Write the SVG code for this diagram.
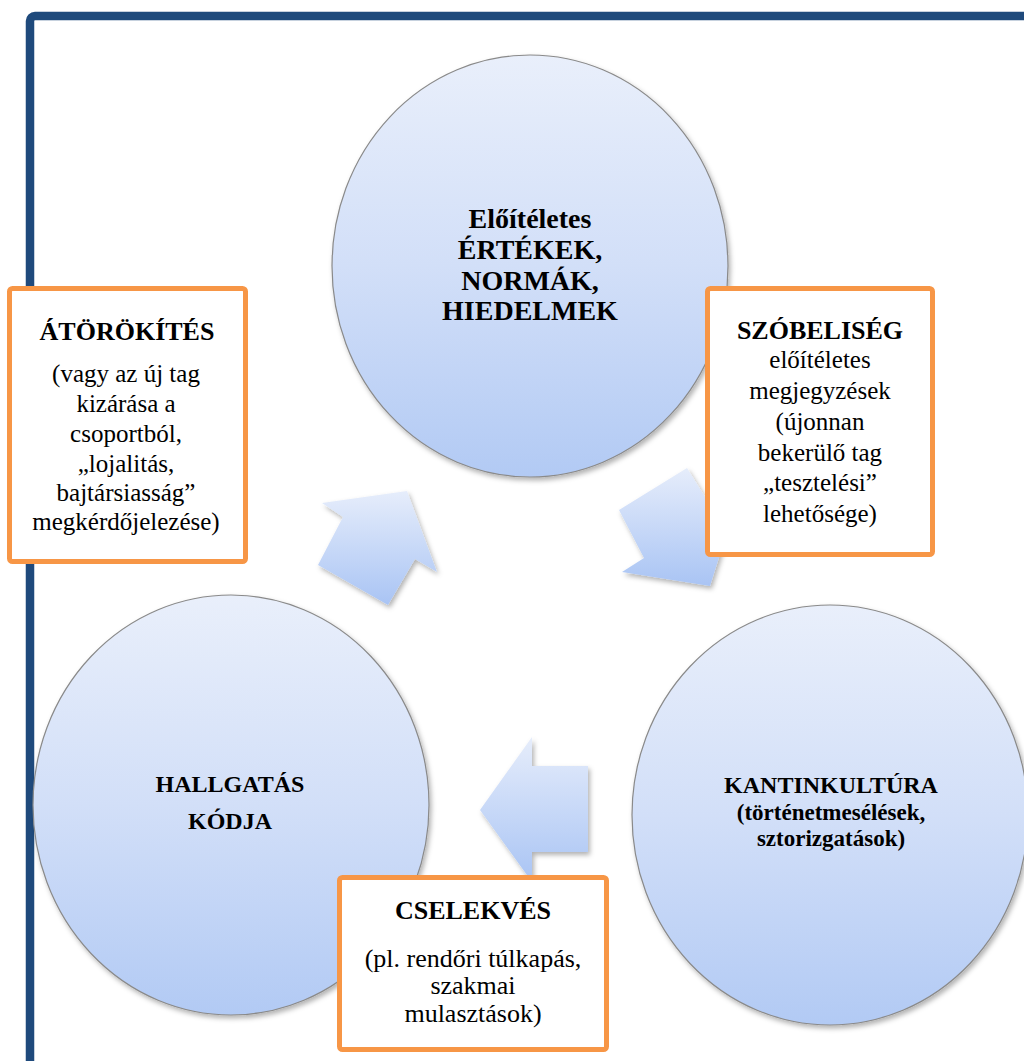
<svg xmlns="http://www.w3.org/2000/svg" width="1024" height="1061" viewBox="0 0 1024 1061">
  <style>
    .circ { fill: url(#circGrad); stroke: #8a8a8a; stroke-width: 1.2; filter: url(#shadow); }
    .arrow { fill: url(#arrowGrad); filter: url(#shadow); }
    .box { fill: #ffffff; stroke: #f79646; stroke-width: 5; }
    .t { font-family: "Liberation Serif", "Times New Roman", serif; fill: #000; text-anchor: middle; }
    .b { font-weight: bold; }
  </style>
  <defs>
    <linearGradient id="circGrad" x1="0" y1="0" x2="0" y2="1">
      <stop offset="0" stop-color="#e9effb"/>
      <stop offset="0.5" stop-color="#d2dff8"/>
      <stop offset="1" stop-color="#b2caf4"/>
    </linearGradient>
    <linearGradient id="arrowGrad" x1="0" y1="0" x2="0" y2="1">
      <stop offset="0" stop-color="#e6edfb"/>
      <stop offset="1" stop-color="#a9c4f4"/>
    </linearGradient>
    <filter id="shadow" x="-10%" y="-10%" width="130%" height="130%">
      <feDropShadow dx="2" dy="3" stdDeviation="2.5" flood-color="#000" flood-opacity="0.3"/>
    </filter>
  </defs>
  <rect width="1024" height="1061" fill="#ffffff"/>
  <g id="frame">
    <rect x="30" y="16" width="1020" height="1070" rx="5" fill="none" stroke="#1f4a7c" stroke-width="8.5"/>
  </g>
  <g id="node-ertekek">
    <ellipse class="circ" cx="530" cy="266" rx="198" ry="211"/>
    <text class="t b" font-size="28"><tspan x="530" y="228">Előítéletes</tspan><tspan x="530" y="259">ÉRTÉKEK,</tspan><tspan x="530" y="290">NORMÁK,</tspan><tspan x="530" y="320">HIEDELMEK</tspan></text>
  </g>
  <g id="node-kantin">
    <ellipse class="circ" cx="830" cy="815" rx="198" ry="210"/>
    <text class="t b"><tspan x="831" y="793" font-size="24">KANTINKULTÚRA</tspan><tspan x="831" y="820" font-size="23">(történetmesélések,</tspan><tspan x="831" y="846" font-size="23">sztorizgatások)</tspan></text>
  </g>
  <g id="node-hallgatas">
    <ellipse class="circ" cx="231" cy="805" rx="198" ry="210"/>
    <text class="t b" font-size="24"><tspan x="230" y="792">HALLGATÁS</tspan><tspan x="230" y="829">KÓDJA</tspan></text>
  </g>
  <g id="connectors">
    <path class="arrow" d="M407,491 L437,572 L415,559 L388,605 L318,565 L343,517 L322,503 Z"/>
    <path class="arrow" d="M710,586 L622,572 L644,558 L619,510 L687,468 L715,513 L737,500 Z"/>
    <path class="arrow" d="M480,810 L532,737 L532,766 L588,766 L588,852 L532,852 L532,882 Z"/>
  </g>
  <g id="box-atorokites">
    <rect class="box" x="9.5" y="288.5" width="236" height="273" rx="3"/>
    <text class="t b" x="127" y="340" font-size="26">ÁTÖRÖKÍTÉS</text>
    <text class="t" font-size="25"><tspan x="126" y="382">(vagy az új tag</tspan><tspan x="126" y="412">kizárása a</tspan><tspan x="126" y="442">csoportból,</tspan><tspan x="126" y="472">„lojalitás,</tspan><tspan x="126" y="501">bajtársiasság”</tspan><tspan x="126" y="530">megkérdőjelezése)</tspan></text>
  </g>
  <g id="box-szobeliseg">
    <rect class="box" x="707.5" y="288.5" width="225" height="266" rx="3"/>
    <text class="t b" x="820" y="339" font-size="26">SZÓBELISÉG</text>
    <text class="t" font-size="25"><tspan x="820" y="368">előítéletes</tspan><tspan x="820" y="399">megjegyzések</tspan><tspan x="820" y="430">(újonnan</tspan><tspan x="820" y="461">bekerülő tag</tspan><tspan x="820" y="491">„tesztelési”</tspan><tspan x="820" y="522">lehetősége)</tspan></text>
  </g>
  <g id="box-cselekves">
    <rect class="box" x="339.5" y="877.5" width="267" height="172" rx="3"/>
    <text class="t b" x="473" y="919" font-size="26">CSELEKVÉS</text>
    <text class="t" font-size="26"><tspan x="473" y="967">(pl. rendőri túlkapás,</tspan><tspan x="473" y="994">szakmai</tspan><tspan x="473" y="1022">mulasztások)</tspan></text>
  </g>
</svg>
